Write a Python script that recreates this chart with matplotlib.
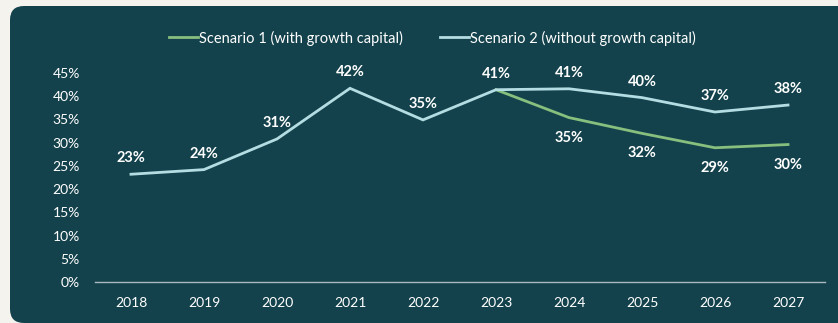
import matplotlib.pyplot as plt
from matplotlib.patches import FancyBboxPatch

years = ["2018", "2019", "2020", "2021", "2022", "2023", "2024", "2025", "2026", "2027"]
scen2 = [23.2, 24.2, 30.8, 41.7, 34.9, 41.4, 41.6, 39.7, 36.6, 38.1]
scen2_labels = ["23%", "24%", "31%", "42%", "35%", "41%", "41%", "40%", "37%", "38%"]
scen1_years = ["2023", "2024", "2025", "2026", "2027"]
scen1 = [41.4, 35.4, 32.0, 28.9, 29.6]
scen1_labels = ["35%", "32%", "29%", "30%"]  # 2024..2027, drawn below the line

bg = "#f5f3ee"
panel = "#14424c"
green = "#86bf7e"
blue = "#b4dde3"
plt.rcParams['font.family'] = ['Lato', 'DejaVu Sans']

W, H = 838, 323
fig = plt.figure(figsize=(W / 100, H / 100), dpi=100)
fig.patch.set_facecolor(bg)

# background axes in pixel units, for the rounded dark panel
bax = fig.add_axes([0, 0, 1, 1], zorder=-1)
bax.set_xlim(0, W)
bax.set_ylim(0, H)
bax.axis("off")
bax.add_patch(FancyBboxPatch((10, 0), W + 40, H - 6,
                             boxstyle="round,pad=0,rounding_size=14",
                             facecolor=panel, edgecolor="none"))

ax = fig.add_axes([94.5 / W, (H - 282) / H, 730 / W, (282 - 73) / H])
ax.set_facecolor("none")
x = list(range(len(years)))
x1 = [years.index(y) for y in scen1_years]

l1, = ax.plot(x1, scen1, color=green, lw=2.0, solid_joinstyle="miter", label="Scenario 1 (with growth capital)")
l2, = ax.plot(x, scen2, color=blue, lw=2.0, solid_joinstyle="miter", label="Scenario 2 (without growth capital)")

for xi, v, t in zip(x, scen2, scen2_labels):
    ax.annotate(t, (xi, v), xytext=(0, 16), textcoords="offset pixels", ha="center", va="center",
                color="white", fontsize=10.5, fontweight="bold", annotation_clip=False)
for xi, v, t in zip(x1[1:], scen1[1:], scen1_labels):
    ax.annotate(t, (xi, v), xytext=(0, -20), textcoords="offset pixels", ha="center", va="center",
                color="white", fontsize=10.5, fontweight="bold", annotation_clip=False)

ax.set_xlim(-0.5, len(years) - 0.5)
ax.set_ylim(0, 45)
ax.set_xticks(x)
ax.set_xticklabels(years)
ax.set_yticks(range(0, 50, 5))
ax.set_yticklabels([f"{v}%" for v in range(0, 50, 5)])
ax.tick_params(colors="white", labelsize=10, length=0)
ax.tick_params(axis="x", pad=11)
ax.tick_params(axis="y", pad=10.5)
for s in ["top", "right", "left"]:
    ax.spines[s].set_visible(False)
ax.spines["bottom"].set_color("#a9b8bc")
ax.spines["bottom"].set_linewidth(1.0)

leg = fig.legend(handles=[l1, l2], loc="center", bbox_to_anchor=(432.5 / W, (H - 38) / H), ncol=2,
                 frameon=False, fontsize=10.5, handlelength=2.0, handletextpad=0.1,
                 columnspacing=2.5, labelcolor="white")

fig.savefig("out.png", dpi=100, facecolor=bg)
